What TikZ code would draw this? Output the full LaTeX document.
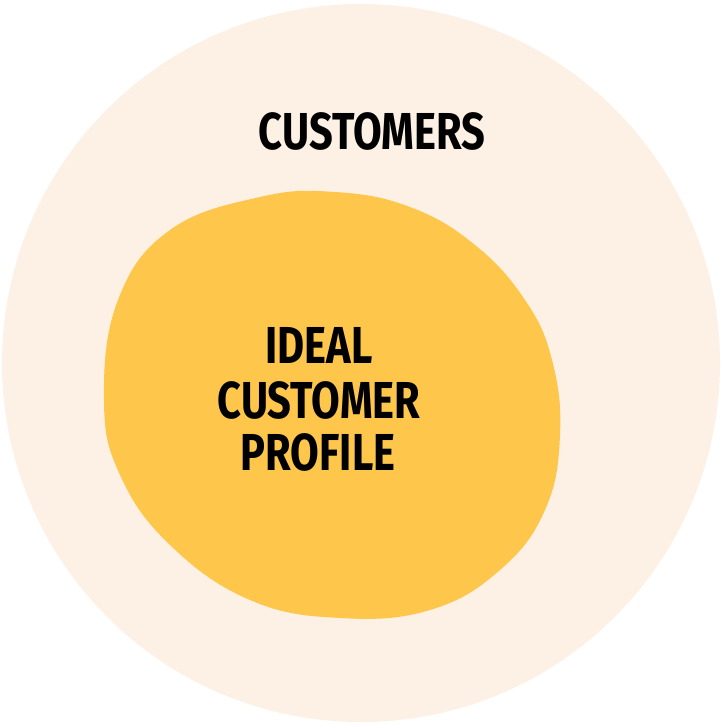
\documentclass[tikz,border=0pt]{standalone}
\usepackage{fontspec}
\setmainfont{Fira Sans}
\definecolor{outerbeige}{HTML}{FCF1E4}
\definecolor{blobyellow}{HTML}{FEC74B}
\begin{document}
\begin{tikzpicture}[x=1pt,y=-1pt,
  lbl/.style={font=\fontsize{52}{52}\selectfont\bfseries, text=black, xscale=0.8, inner sep=0pt}]
\useasboundingbox (0,0) rectangle (722,725);
\fill[outerbeige] (361,363) circle[radius=359];
\fill[blobyellow] plot[smooth cycle, tension=0.7] coordinates {
  (104,400) (118,300) (170,230) (260,197) (335,192) (410,207) (475,245)
  (525,300) (552,360) (560,435) (545,510) (500,570) (430,610) (340,618)
  (250,600) (170,545) (120,475)};
\node[lbl] (customers) at (372,131) {CUSTOMERS};
\node[lbl] (ideal) at (319,345) {IDEAL};
\node[lbl] (customer) at (319,400) {CUSTOMER};
\node[lbl] (profile) at (318,452) {PROFILE};
\end{tikzpicture}
\end{document}
